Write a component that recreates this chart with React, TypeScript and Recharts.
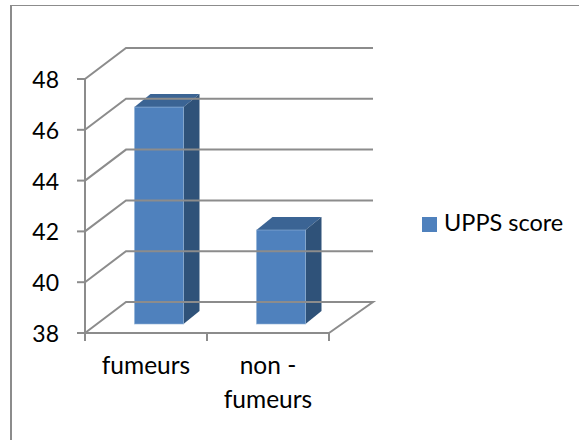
import { BarChart, Bar, XAxis, YAxis, Legend } from 'recharts';

const categories = ['fumeurs', 'non - fumeurs'];
const scores = [46.54, 41.7];
const yTicks = [38, 40, 42, 44, 46, 48];
const seriesName = 'UPPS score';

const data = categories.map((name, i) => ({ name, score: scores[i] }));

const GRID = '#8c8c8c';
const FONT = 'Lato, sans-serif';

// fake 3D: how far the back wall sits behind the front plane
const WALL_DX = 41;
const WALL_DY = -31;
const WALL_RIGHT = 373;
const FRONT_RIGHT = 329;
const HALF_BAND = 61;

const YTick = ({ x, y, payload }: any) => {
    const left = x + 10;
    return (
        <g>
            <polyline
                points={`${left},${y} ${left + WALL_DX},${y + WALL_DY} ${WALL_RIGHT},${y + WALL_DY}${payload.value === 38 ? ` ${FRONT_RIGHT},${y}` : ''}`}
                fill="none"
                stroke={GRID}
                strokeWidth={2}
            />
            <text x={59} y={y + 9} textAnchor="end" fontSize={23} fontFamily={FONT} fill="#000">
                {payload.value}
            </text>
        </g>
    );
};

// ticks sit between the categories, not under them
const XTick = ({ x, y, payload }: any) => {
    const parts = payload.value === 'non - fumeurs' ? ['non -', 'fumeurs'] : [payload.value];
    return (
        <g>
            <line x1={x - HALF_BAND} x2={x - HALF_BAND} y1={y - 10} y2={y - 2} stroke={GRID} strokeWidth={2} />
            <line x1={x + HALF_BAND} x2={x + HALF_BAND} y1={y - 10} y2={y - 2} stroke={GRID} strokeWidth={2} />
            <text textAnchor="middle" fontSize={24.5} fontFamily={FONT} fill="#000">
                {parts.map((p: string, i: number) => (
                    <tspan key={p} x={x} y={y + 31 + i * 34}>
                        {p}
                    </tspan>
                ))}
            </text>
        </g>
    );
};

// bars stand in the middle of the depth, so shifted from the front plane
const Bar3D = ({ x, y, width, height }: any) => {
    const bx = x + 12.5;
    const by = y - 9;
    const dx = 16;
    const dy = -13;
    return (
        <g>
            <polygon
                points={`${bx},${by} ${bx + dx},${by + dy} ${bx + width + dx},${by + dy} ${bx + width},${by}`}
                fill="#3b6494"
            />
            <polygon
                points={`${bx + width},${by} ${bx + width + dx},${by + dy} ${bx + width + dx},${by + height + dy} ${bx + width},${by + height}`}
                fill="#2f5279"
            />
            <rect x={bx} y={by} width={width} height={height} fill="#4f81bd" stroke="#8fb0d6" strokeOpacity={0.6} />
        </g>
    );
};

export default function App() {
    return (
        <div style={{ position: 'absolute', left: 0, top: 0, width: 579, height: 440, background: '#fff' }}>
            <div style={{ position: 'absolute', left: 10, top: 5, width: 569, height: 435, borderLeft: `2px solid ${GRID}`, borderTop: `1px solid ${GRID}`, boxSizing: 'border-box' }} />
            <BarChart
                width={579}
                height={440}
                data={data}
                margin={{ top: 79, right: 250, bottom: 0, left: 0 }}
                barSize={49}
                style={{ position: 'absolute', left: 0, top: 0 }}
            >
                <YAxis
                    width={85}
                    domain={[38, 48]}
                    ticks={yTicks}
                    interval={0}
                    tick={<YTick />}
                    stroke={GRID}
                    strokeWidth={2}
                    tickSize={8}
                />
                <XAxis
                    dataKey="name"
                    height={107}
                    interval={0}
                    tick={<XTick />}
                    tickLine={false}
                    stroke={GRID}
                    strokeWidth={2}
                    tickSize={8}
                />
                <Bar dataKey="score" name={seriesName} fill="#4f81bd" shape={<Bar3D />} isAnimationActive={false} />
                <Legend
                    layout="vertical"
                    align="center"
                    verticalAlign="middle"
                    iconType="square"
                    iconSize={15}
                    formatter={(v: string) => (
                        <span style={{ color: '#000', fontSize: 23.5, fontFamily: FONT, position: 'relative', top: 3, marginLeft: 3 }}>{v}</span>
                    )}
                    wrapperStyle={{ left: 422, top: 205, width: 157 }}
                />
            </BarChart>
        </div>
    );
}
